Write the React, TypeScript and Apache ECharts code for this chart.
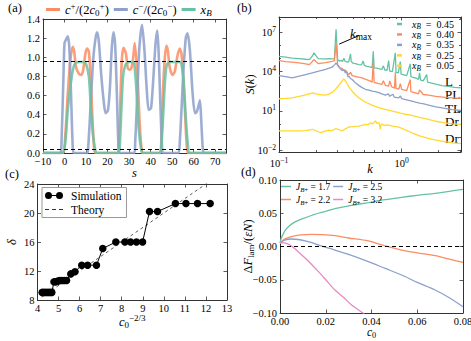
import React, { useEffect, useRef } from "react";
import * as echarts from "echarts";

// ---------------- Panel (a): profiles along s ----------------
const cPlusA: [number, number][] = [
  [-10, 0], [-1, 0], [0.3, 0.17], [1.5, 0.62], [2.7, 0.97], [3.75, 1.11], [4.5, 1.06], [5.3, 0.9], [6.6, 0.83], [7.7, 0.815],
  [8.6, 0.86], [9.7, 1.04], [10.5, 1.09], [11.3, 1.06], [12.1, 0.8], [12.8, 0.45], [13.6, 0.1], [14.4, 0], [24.6, 0], [25.2, 0.1],
  [25.8, 0.45], [26.6, 0.97], [27.4, 1.1], [28.5, 1.04], [29.4, 0.885], [30.5, 0.87], [31.6, 0.94], [32.6, 1.15], [33.9, 0.8],
  [35.0, 0.27], [35.9, 0.02], [36.5, 0], [44.2, 0], [44.9, 0.1], [45.7, 0.62], [46.5, 0.97], [47.3, 1.12], [48.0, 1.07],
  [48.8, 0.9], [50.1, 0.815], [51.2, 0.85], [52.3, 1.0], [53.5, 1.09], [54.3, 1.04], [55.1, 0.8], [55.9, 0.45], [56.7, 0.1],
  [57.4, 0], [75, 0],
];
const cMinusA: [number, number][] = [
  [-10, 0], [-2, 0], [-1.5, 0.05], [-0.5, 0.8], [0, 1.15], [0.8, 1.19], [1.5, 1.22], [2.2, 1.11], [3.0, 0.63], [3.75, 0.1],
  [4.3, 0], [10.5, 0], [10.9, 0.03], [12, 0.45], [13.3, 0.97], [14.4, 1.2], [15.2, 1.26], [16, 1.15], [17, 0.83], [18.3, 0.52],
  [19.1, 0.415], [20.2, 0.45], [21.1, 0.69], [21.9, 1.08], [22.7, 1.26], [23.5, 1.13], [24.3, 0.63], [25.0, 0.1], [25.6, 0],
  [32.4, 0], [32.8, 0.1], [33.5, 0.45], [34.7, 1.08], [36.0, 1.34], [37.1, 1.08], [38.2, 0.66], [39.1, 0.45], [40.2, 0.47],
  [41.3, 0.8], [42.3, 1.15], [43.1, 1.28], [43.8, 1.0], [44.6, 0.45], [45.4, 0.02], [46, 0], [52.8, 0], [53.5, 0.1],
  [55.1, 0.8], [56.3, 1.2], [57.1, 1.25], [58.2, 1.08], [59.5, 0.62], [60.6, 0.415], [61.4, 0.43], [62.1, 0.48], [62.9, 0.55],
  [63.5, 0.34], [64.2, 0.05], [64.8, 0], [75, 0],
];
const xBA: [number, number][] = [
  [-10, 0], [-1, 0], [0.3, 0.1], [1.5, 0.45], [2.7, 0.69], [3.9, 0.87], [5.0, 0.94], [6.6, 0.95], [8.9, 0.95], [10.0, 0.93],
  [11.3, 0.8], [12.3, 0.45], [13.3, 0.17], [14.4, 0.02], [15, 0], [25, 0], [25.6, 0.05], [26.4, 0.45], [27.2, 0.8],
  [28.5, 0.93], [30.3, 0.95], [31.6, 0.95], [32.4, 0.93], [33.5, 0.62], [34.4, 0.27], [35.5, 0.05], [36.3, 0], [44.3, 0],
  [44.9, 0.05], [45.7, 0.34], [46.5, 0.69], [47.3, 0.9], [48.5, 0.95], [53.5, 0.95], [54.3, 0.93], [55.4, 0.73], [56.3, 0.38],
  [57.3, 0.08], [58.2, 0], [75, 0],
];
const levelsA = [0.96, 0.04];

// ---------------- Panel (b): structure factor S(k) ----------------
const sk045: [number, number][] = [
  [0.1, 1.5e5], [0.113, 1.3e5], [0.128, 1.1e5], [0.146, 1.0e5], [0.165, 9e4], [0.177, 8.5e4], [0.187, 1.6e5], [0.193, 2.8e5],
  [0.2, 1.7e5], [0.209, 1.0e5], [0.225, 9.5e4], [0.24, 9.5e4], [0.255, 1.0e5], [0.271, 9.5e4], [0.283, 1.0e5], [0.288, 2e6],
  [0.292, 1.8e7], [0.296, 1.5e6], [0.301, 8e4], [0.312, 6.5e4], [0.322, 7.5e4], [0.33, 6e4], [0.338, 1.1e5], [0.345, 6.5e4],
  [0.358, 5.5e4], [0.37, 5.8e4], [0.378, 1.3e5], [0.383, 2.3e5], [0.388, 6e4], [0.4, 4.6e4], [0.42, 4.2e4], [0.447, 3.5e4],
  [0.47, 3.3e4], [0.486, 6.5e4], [0.497, 3e4], [0.52, 2.6e4], [0.55, 2.3e4], [0.575, 2.1e4], [0.587, 3.6e5], [0.597, 2e4],
  [0.625, 1.85e4], [0.66, 1.65e4], [0.69, 1.5e4], [0.71, 2.8e4], [0.73, 1.35e4], [0.76, 1.25e4], [0.784, 7e4], [0.8, 1.1e4],
  [0.84, 1.0e4], [0.889, 2.8e5], [0.9, 9e3], [0.94, 8e3], [0.976, 6e4], [0.99, 6.5e3], [1.04, 5.8e3], [1.1, 5e3],
  [1.176, 4e4], [1.19, 4.2e3], [1.25, 3.6e3], [1.31, 3.2e3], [1.374, 2.6e3], [1.4, 8e3], [1.43, 2.3e3], [1.5, 2e3],
  [1.6, 6e3], [1.63, 1.6e3], [1.75, 1.35e3], [1.9, 1.1e3], [2.13, 870], [2.4, 750], [2.7, 640], [3.05, 580],
];
const sk040: [number, number][] = [
  [0.1, 7e4], [0.113, 6e4], [0.128, 5.5e4], [0.146, 4.7e4], [0.165, 4e4], [0.177, 3.5e4], [0.187, 6e4], [0.193, 8.5e4],
  [0.2, 6e4], [0.209, 4.2e4], [0.24, 5e4], [0.271, 6.3e4], [0.283, 7e4], [0.288, 4e5], [0.292, 1.3e6], [0.296, 3e5],
  [0.301, 3e4], [0.312, 2e4], [0.327, 1.8e4], [0.338, 1.2e4], [0.348, 1.3e4], [0.36, 8e3], [0.371, 6e3], [0.383, 9e3],
  [0.395, 5e3], [0.42, 4.3e3], [0.447, 3.8e3], [0.476, 3.4e3], [0.51, 2.6e3], [0.55, 2e3], [0.575, 1.6e3], [0.587, 6.3e4],
  [0.597, 1.5e3], [0.65, 1.2e3], [0.69, 1.05e3], [0.71, 2e3], [0.736, 900], [0.784, 780], [0.8, 2e3], [0.83, 700],
  [0.875, 550], [0.889, 9e3], [0.9, 520], [0.95, 460], [0.976, 1.2e3], [1.0, 440], [1.1, 360], [1.176, 2.5e3], [1.19, 300],
  [1.3, 240], [1.374, 200], [1.4, 400], [1.5, 180], [1.658, 160], [1.9, 130], [2.26, 110], [2.6, 100], [3.05, 90],
];
const sk035: [number, number][] = [
  [0.1, 5e3], [0.113, 4.2e3], [0.128, 3.4e3], [0.146, 4.5e3], [0.165, 6e3], [0.187, 8e3], [0.211, 1.1e4], [0.24, 1.5e4],
  [0.271, 2.2e4], [0.285, 3.5e4], [0.292, 4.7e4], [0.3, 3.2e4], [0.308, 2.6e4], [0.318, 1.6e4], [0.327, 1.2e4],
  [0.338, 1.5e4], [0.348, 8e3], [0.355, 1.1e4], [0.365, 4e3], [0.371, 4.5e3], [0.383, 3e3], [0.395, 2.5e3], [0.42, 1.4e3],
  [0.447, 900], [0.476, 600], [0.507, 450], [0.54, 380], [0.574, 320], [0.61, 300], [0.65, 250], [0.69, 200], [0.736, 160],
  [0.78, 200], [0.8, 130], [0.85, 190], [0.87, 115], [0.946, 100], [0.98, 140], [1.0, 85], [1.1, 70], [1.213, 56], [1.3, 47],
  [1.4, 40], [1.52, 34], [1.658, 28], [1.9, 20], [2.26, 15.5], [2.6, 12.5], [3.05, 10.7],
];
const sk025: [number, number][] = [
  [0.1, 85], [0.113, 90], [0.128, 100], [0.146, 130], [0.165, 170], [0.187, 240], [0.2, 200], [0.211, 180], [0.225, 170],
  [0.24, 160], [0.255, 190], [0.271, 260], [0.289, 440], [0.31, 1e3], [0.325, 1.8e3], [0.338, 2.8e3], [0.348, 2e3],
  [0.359, 1.2e3], [0.375, 600], [0.395, 320], [0.42, 170], [0.447, 100], [0.5, 50], [0.574, 28], [0.65, 18], [0.736, 13],
  [0.84, 9.5], [0.946, 7.2], [1.07, 5.5], [1.213, 4.5], [1.4, 3.2], [1.658, 2.2], [1.9, 1.6], [2.26, 1.2], [2.6, 1.0], [3.05, 0.93],
];
const sk005: [number, number][] = [
  [0.1, 0.29], [0.12, 0.29], [0.146, 0.29], [0.165, 0.31], [0.187, 0.39], [0.2, 0.3], [0.218, 0.21], [0.235, 0.28],
  [0.255, 0.34], [0.27, 0.3], [0.289, 0.43], [0.31, 0.36], [0.327, 0.29], [0.345, 0.4], [0.371, 0.58], [0.4, 0.62],
  [0.447, 0.69], [0.48, 0.8], [0.507, 0.93], [0.53, 0.85], [0.556, 1.2], [0.58, 1.0], [0.611, 1.7], [0.63, 1.1], [0.65, 1.3],
  [0.66, 0.9], [0.671, 0.39], [0.68, 0.9], [0.692, 1.0], [0.72, 0.75], [0.75, 0.85], [0.784, 0.81], [0.85, 0.68],
  [0.946, 0.58], [1.07, 0.35], [1.213, 0.21], [1.4, 0.12], [1.658, 0.079], [1.9, 0.058], [2.26, 0.044], [2.6, 0.036], [3.05, 0.031],
];
const xBValuesB = ["0.45", "0.40", "0.35", "0.25", "0.05"];
const phaseLabelsB = ["L", "PL", "TL", "Dr", "Dr"];
const majorExpYB = [-2, 1, 4, 7];
const minorExpYB = [-1, 0, 2, 3, 5, 6, 8];
const majorExpXB = [-1, 0];
const minorKB = [0.2, 0.3, 0.4, 0.5, 0.6, 0.7, 0.8, 0.9, 2, 3];
const kMaxArrow: [number, number][] = [[0.45, 6e6], [0.31, 1.3e6]];

// ---------------- Panel (c): delta vs c0^(-2/3) ----------------
const simX = [4.22, 4.31, 4.4, 4.5, 4.59, 4.68, 4.78, 4.87, 4.96, 5.06, 5.16, 5.27, 5.38, 5.58, 5.78, 6.1, 6.38, 6.8, 7.1, 7.72,
  8.15, 8.42, 8.7, 8.99, 9.32, 9.7, 10.55, 11.05, 11.6, 12.2];
const simDelta = [9.05, 9.05, 9.05, 9.05, 9.05, 9.05, 10.5, 10.5, 10.6, 10.7, 10.7, 10.7, 10.7, 11.6, 11.9, 12.8, 12.8, 12.8, 15.1,
  16.0, 16.0, 16.0, 16.0, 16.0, 20.2, 20.2, 21.3, 21.3, 21.3, 21.3];
const theoryX = [4.2, 12.2];
const theoryDelta = [8.4, 24.4];

// ---------------- Panel (d): Delta F_lam vs c0 ----------------
const dJ17: [number, number][] = [
  [0, 0.005], [0.0005, 0.012], [0.001, 0.016], [0.0022, 0.024], [0.004, 0.031], [0.0066, 0.037], [0.01, 0.042], [0.014, 0.047],
  [0.02, 0.053], [0.024, 0.057], [0.03, 0.061], [0.0386, 0.066], [0.045, 0.07], [0.0532, 0.074], [0.06, 0.077],
  [0.0678, 0.08], [0.074, 0.083], [0.08, 0.086],
];
const dJ22: [number, number][] = [
  [0, 0.005], [0.002, 0.011], [0.005, 0.015], [0.009, 0.0175], [0.0139, 0.0183], [0.018, 0.0178], [0.024, 0.0162],
  [0.03, 0.0128], [0.0386, 0.0083], [0.046, 0.0008], [0.0532, -0.0053], [0.06, -0.0095], [0.0678, -0.0138], [0.074, -0.019],
  [0.08, -0.0238],
];
const dJ25: [number, number][] = [
  [0, 0.005], [0.002, 0.0095], [0.005, 0.0113], [0.008, 0.0105], [0.011, 0.0085], [0.014, 0.0058], [0.018, 0.0008],
  [0.024, -0.0053], [0.03, -0.012], [0.0386, -0.0228], [0.046, -0.033], [0.0532, -0.0429], [0.06, -0.054], [0.0678, -0.0654],
  [0.074, -0.077], [0.08, -0.0905],
];
const dJ32: [number, number][] = [
  [0, 0.0055], [0.002, 0.0055], [0.004, 0.003], [0.006, -0.002], [0.0095, -0.0128], [0.013, -0.024], [0.0168, -0.0378],
  [0.02, -0.05], [0.024, -0.0654], [0.028, -0.077], [0.0313, -0.088], [0.0364, -0.1005], [0.038, -0.106],
];
const jValuesD = ["1.7", "2.2", "2.5", "3.2"];

// ---------------- styling ----------------
const FONT = "'Liberation Serif', 'DejaVu Serif', serif";
const INK = "#000";
const FRAME = "#333";
const GREEN = "#66c2a5";
const ORANGE = "#fc8d62";
const BLUE = "#8da0cb";
const PINK = "#e78ac3";
const YELLOW = "#ffd92f";

function rich(fs: number, lhIn?: number) {
  const lh = lhIn ?? Math.round(fs * 1.35);
  const s = Math.round(fs * 0.72 * 10) / 10;
  const p = Math.max(0, Math.round((lh / 2 - 0.08 * fs) * 10) / 10);
  return {
    n: { fontFamily: FONT, fontSize: fs, color: INK, lineHeight: lh },
    i: { fontFamily: FONT, fontSize: fs, fontStyle: "italic", color: INK, lineHeight: lh },
    g: { fontFamily: FONT, fontSize: fs, color: INK, lineHeight: lh, width: 5 },
    sup: { fontFamily: FONT, fontSize: s, color: INK, verticalAlign: "top", lineHeight: 1 },
    sub: { fontFamily: FONT, fontSize: s, color: INK, verticalAlign: "top", lineHeight: 1, padding: [p, 0, 0, 0] },
    isub: { fontFamily: FONT, fontSize: s, fontStyle: "italic", color: INK, verticalAlign: "top", lineHeight: 1, padding: [p, 0, 0, 0] },
  };
}

const minus = (t: string) => t.replace("-", "\u2212");
const log = (v: number) => Math.log10(v);
const toLog = (arr: [number, number][]) => arr.map(([k, s]) => [log(k), log(s)]);

export default function App() {
  const ref = useRef<HTMLDivElement>(null);
  useEffect(() => {
    if (!ref.current) return;
    const chart = echarts.init(ref.current, undefined, { renderer: "svg" });

    const xAxes: any[] = [];
    const yAxes: any[] = [];
    const lineStyleAxis = { show: true, onZero: false, lineStyle: { color: FRAME, width: 1 } };
    const tick = (len: number, custom?: number[]) => ({
      show: true, inside: true, length: len, lineStyle: { color: FRAME, width: 0.8 },
      ...(custom ? { customValues: custom } : {}),
    });
    function addAxes(list: any[], gridIndex: number, pos: [string, string], scale: any, label: any, name: any,
      major?: number[], minor?: number[]) {
      const idx = list.length;
      list.push({ type: "value", gridIndex, position: pos[0], ...scale, axisLine: lineStyleAxis, axisTick: tick(3.5, major),
        axisLabel: label, splitLine: { show: false }, ...name });
      list.push({ type: "value", gridIndex, position: pos[1], ...scale, axisLine: lineStyleAxis, axisTick: tick(3.5, major),
        axisLabel: { show: false }, splitLine: { show: false } });
      if (minor) {
        for (const p of pos) {
          list.push({ type: "value", gridIndex, position: p, ...scale, axisLine: { show: false, onZero: false },
            axisTick: tick(2, minor), axisLabel: { show: false }, splitLine: { show: false } });
        }
      }
      return idx;
    }
    const tickLabel = (fmt: (v: number) => string, extra: any = {}) => ({
      show: true, fontFamily: FONT, fontSize: 10.5, color: INK, margin: 3, formatter: fmt, ...extra,
    });
    const axName = (text: string, gap: number, fs = 12.5, lh?: number) => ({
      name: text, nameLocation: "middle", nameGap: gap, nameMoveOverlap: false,
      nameTextStyle: { rich: rich(fs, lh), fontFamily: FONT, fontSize: fs, color: INK },
    });

    const grids = [
      { left: 43, top: 19, width: 183, height: 134 },
      { left: 279, top: 17, width: 182, height: 135 },
      { left: 37.5, top: 184, width: 189.5, height: 116 },
      { left: 280, top: 180, width: 183, height: 133 },
    ].map((g) => ({ ...g, containLabel: false, outerBoundsMode: "none" }));

    // (a)
    const axA = addAxes(xAxes, 0, ["bottom", "top"], { min: -10, max: 75, interval: 10 },
      tickLabel((v) => minus(String(v)), { showMaxLabel: false }), axName("{i|s}", 11));
    const ayA = addAxes(yAxes, 0, ["left", "right"], { min: 0, max: 1.4, interval: 0.2 },
      tickLabel((v) => v.toFixed(1)), {});
    // (b)
    const expFmt = (v: number) => `{n|10}{sup|${minus(String(Math.round(v)))}}`;
    const axB = addAxes(xAxes, 1, ["bottom", "top"], { min: -1, max: log(3.05) },
      tickLabel(expFmt, { customValues: majorExpXB, rich: rich(10.5), margin: 4 }), axName("{i|k}", 8),
      majorExpXB, minorKB.map(log));
    const ayB = addAxes(yAxes, 1, ["left", "right"], { min: -2.15, max: 8.19 },
      tickLabel(expFmt, { customValues: majorExpYB, rich: rich(10.5) }), axName("{i|S}{n|(}{i|k}{n|)}", 21),
      majorExpYB, minorExpYB);
    // (c)
    const axC = addAxes(xAxes, 2, ["bottom", "top"], { min: 4, max: 13, interval: 1 },
      tickLabel((v) => String(v)), axName("{i|c}{sub|0}{sup|\u22122/3}", 13));
    const ayC = addAxes(yAxes, 2, ["left", "right"], { min: 8, max: 24, interval: 4 },
      tickLabel((v) => String(v)), axName("{i|δ}", 17));
    // (d)
    const axD = addAxes(xAxes, 3, ["bottom", "top"], { min: 0, max: 0.08, interval: 0.02 },
      tickLabel((v) => v.toFixed(2), { lineHeight: 10 }), axName("{i|c}{sub|0}", 13, 11.5, 12));
    const ayD = addAxes(yAxes, 3, ["left", "right"], { min: -0.1, max: 0.1, interval: 0.05 },
      tickLabel((v) => (Math.abs(v) < 1e-9 ? "0.00" : minus(v.toFixed(2)))),
      axName("{n|Δ}{i|F}{sub|lam}{n|/(}{i|εN}{n|)}", 24));

    const lineA = (name: string, data: any, color: string, extra: any = {}) => ({
      type: "line", name, data, xAxisIndex: axA, yAxisIndex: ayA, showSymbol: false, symbol: "none", smooth: 0.25,
      color, lineStyle: { color, width: 2.6, opacity: 0.85 }, ...extra,
    });
    const lineB = (name: string, data: [number, number][], color: string, extra: any = {}) => ({
      type: "line", name, data: toLog(data), xAxisIndex: axB, yAxisIndex: ayB, showSymbol: false, symbol: "none",
      color, lineStyle: { color, width: 1.3 }, ...extra,
    });
    const lineD = (name: string, data: any, color: string, extra: any = {}) => ({
      type: "line", name, data, xAxisIndex: axD, yAxisIndex: ayD, showSymbol: false, symbol: "none", smooth: 0.3,
      color, lineStyle: { color, width: 1.3 }, ...extra,
    });

    const series: any[] = [
      lineA("cp", cPlusA, ORANGE, {
        markLine: {
          silent: true, symbol: "none", label: { show: false },
          lineStyle: { color: "#000", type: [4, 3], width: 1.2 },
          data: levelsA.map((v) => ({ yAxis: v })),
        },
      }),
      lineA("cm", cMinusA, BLUE),
      lineA("xb", xBA, GREEN),
      lineB("b045", sk045, GREEN, {
        markLine: {
          silent: true, symbol: ["none", "arrow"], symbolSize: [0, 7], label: { show: false },
          lineStyle: { color: "#000", type: "solid", width: 1 },
          data: [[{ coord: [log(kMaxArrow[0][0]), log(kMaxArrow[0][1])] }, { coord: [log(kMaxArrow[1][0]), log(kMaxArrow[1][1])] }]],
        },
      }),
      lineB("b040", sk040, ORANGE),
      lineB("b035", sk035, BLUE),
      lineB("b025", sk025, YELLOW),
      lineB("b005", sk005, YELLOW),
      {
        type: "line", name: "Theory", data: theoryX.map((x, i) => [x, theoryDelta[i]]), xAxisIndex: axC, yAxisIndex: ayC,
        showSymbol: false, symbol: "none", color: "#333", lineStyle: { color: "#333", width: 0.8, type: [3, 3] },
      },
      {
        type: "line", name: "Simulation", data: simX.map((x, i) => [x, simDelta[i]]), xAxisIndex: axC, yAxisIndex: ayC,
        symbol: "circle", symbolSize: 7.5, color: "#000", itemStyle: { color: "#000" }, lineStyle: { color: "#000", width: 1 },
      },
      lineD("J17", dJ17, GREEN, {
        markLine: {
          silent: true, symbol: "none", label: { show: false },
          lineStyle: { color: "#000", type: [4, 3], width: 1 }, data: [{ yAxis: 0 }],
        },
      }),
      lineD("J22", dJ22, ORANGE),
      lineD("J25", dJ25, BLUE),
      lineD("J32", dJ32, PINK),
    ];

    const legendLabels: Record<string, string> = {
      cp: "{i|c}{sup|+}{n|/(2}{i|c}{sub|0}{sup|+}{n|)}",
      cm: "{i|c}{sup|\u2212}{n|/(2}{i|c}{sub|0}{sup|\u2212}{n|)}",
      xb: "{i|x}{isub|B}",
    };
    ["b045", "b040", "b035", "b025", "b005"].forEach((n, i) => {
      legendLabels[n] = `{g| }{i|x}{isub|B}{n|\u2002=\u2002${xBValuesB[i]}}`;
    });
    ["J17", "J22", "J25", "J32"].forEach((n, i) => {
      legendLabels[n] = `{i|J}{isub|B}{sub|+}{n| = ${jValuesD[i]}}`;
    });
    const fmt = (name: string) => legendLabels[name] ?? name;

    const legends: any[] = [
      {
        data: ["cp", "cm", "xb"], left: 46, top: 1, orient: "horizontal", icon: "rect", itemWidth: 14, itemHeight: 3,
        itemGap: 5, selectedMode: false, formatter: fmt, padding: 0,
        textStyle: { fontFamily: FONT, fontSize: 12.5, color: INK, rich: rich(12.5) },
      },
      {
        data: ["b045", "b040", "b035", "b025", "b005"], left: 397, top: 19, orient: "vertical", icon: "rect",
        itemWidth: 5, itemHeight: 2.5, itemGap: -0.8, selectedMode: false, formatter: fmt, padding: 0,
        textStyle: { fontFamily: FONT, fontSize: 10, color: INK, rich: rich(10, 9.3) },
      },
      {
        data: [
          { name: "Simulation", icon: "path://M3.5,0A3.5,3.5,0,1,1,3.5,7A3.5,3.5,0,1,1,3.5,0ZM14.5,0A3.5,3.5,0,1,1,14.5,7A3.5,3.5,0,1,1,14.5,0ZM6,3.1L12,3.1L12,3.9L6,3.9Z" },
          { name: "Theory", icon: "path://M0,0L0.01,0L0.01,0.01ZM0,7L0.01,7L0.01,6.99ZM0,3.1L4,3.1L4,3.9L0,3.9ZM7,3.1L11,3.1L11,3.9L7,3.9ZM14,3.1L18,3.1L18,3.9L14,3.9Z" },
        ],
        left: 42, top: 187.5, orient: "vertical", itemWidth: 18, itemHeight: 7, itemGap: 2, selectedMode: false,
        padding: [2, 5, 2, 3], backgroundColor: "#fff", borderColor: "#999", borderWidth: 1,
        textStyle: { fontFamily: FONT, fontSize: 11.5, color: INK, lineHeight: 11, padding: [0, 0, 0, 3] },
      },
      {
        data: ["J17", "J25"], left: 281, top: 180, orient: "horizontal", icon: "rect", itemWidth: 10, itemHeight: 1.5,
        itemGap: 3, selectedMode: false, formatter: fmt, padding: 0,
        textStyle: { fontFamily: FONT, fontSize: 9.5, color: INK, rich: rich(9.5) },
      },
      {
        data: ["J22", "J32"], left: 281, top: 193, orient: "horizontal", icon: "rect", itemWidth: 10, itemHeight: 1.5,
        itemGap: 3, selectedMode: false, formatter: fmt, padding: 0,
        textStyle: { fontFamily: FONT, fontSize: 9.5, color: INK, rich: rich(9.5) },
      },
    ];

    const txt = (text: string, x: number, y: number, fs = 12.5, extra: any = {}) => ({
      type: "text", x, y, silent: true,
      style: { text, fontFamily: FONT, fontSize: fs, fill: INK, verticalAlign: "middle", align: "left", ...extra },
    });
    const labelYs = [81, 94.5, 108, 121.5, 138.5];
    const graphic: any[] = [
      txt("(a)", 8, 8),
      txt("(b)", 237, 8),
      txt("(c)", 5, 174),
      txt("(d)", 241, 172),
      ...phaseLabelsB.map((t, i) => txt(t, 445, labelYs[i], 13)),
      txt("{i|k}{sub|max}", 350, 33, 13, { rich: rich(13) }),
    ];

    chart.setOption({
      animation: false,
      backgroundColor: "#fff",
      textStyle: { fontFamily: FONT },
      grid: grids,
      xAxis: xAxes,
      yAxis: yAxes,
      legend: legends,
      series,
      graphic,
    });
    return () => chart.dispose();
  }, []);
  return <div ref={ref} style={{ position: "fixed", left: 0, top: 0, width: 471, height: 341 }} />;
}
